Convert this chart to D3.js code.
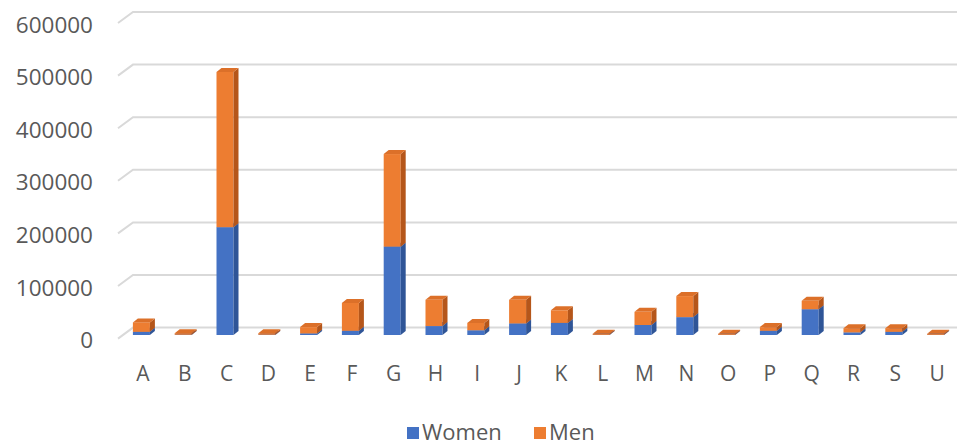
<!DOCTYPE html>
<html>
<head>
<meta charset="utf-8">
<script src="https://cdn.jsdelivr.net/npm/d3@7"></script>
<style>
  body { margin: 0; background: #fff; }
  svg text { font-family: "Open Sans", sans-serif; fill: #595959; }
</style>
</head>
<body>
<svg id="chart"></svg>
<script>
// values
const categories = ["A","B","C","D","E","F","G","H","I","J","K","L","M","N","O","P","Q","R","S","U"];
const women = [6000, 500, 205000, 500, 3000, 8000, 168000, 17000, 9000, 22000, 23000, 300, 19000, 34000, 300, 8000, 49000, 5000, 6000, 300];
const men = [18000, 3000, 295000, 3000, 12000, 53000, 176000, 50000, 14000, 45000, 24000, 2000, 25000, 40000, 2000, 7000, 16000, 8000, 7000, 2000];
const yTicks = [0, 100000, 200000, 300000, 400000, 500000, 600000];
const seriesNames = ["Women", "Men"];

const W = 957, H = 446;
const svg = d3.select("#chart").attr("width", W).attr("height", H);

const rows = categories.map((c, i) => ({cat: c, Women: women[i], Men: men[i]}));
const stack = d3.stack().keys(seriesNames)(rows);

const x = d3.scaleBand().domain(categories).range([122, 958]);
const y = d3.scaleLinear().domain([0, 600000]).range([335, 19.4]);

const frontCol = {Women: "#4472C4", Men: "#ED7D31"};
const sideCol = {Women: "#2F5597", Men: "#B5561A"};
const topCol = {Women: "#3E67B3", Men: "#DC7029"};
const dx = 5, dy = -4, faceW = 17;

// gridlines, back wall with a short slanted floor edge
const grid = svg.append("g");
yTicks.forEach(t => {
  const yb = y(t) - 7.4;
  grid.append("path")
    .attr("d", `M118,${yb + 11}L133,${yb}L957,${yb}`)
    .attr("fill", "none")
    .attr("stroke", "#d9d9d9")
    .attr("stroke-width", 2);
  svg.append("text")
    .attr("x", 93)
    .attr("y", yb + 12)
    .attr("text-anchor", "end")
    .attr("dominant-baseline", "central")
    .style("font-size", "22.5px")
    .text(t);
});

// bars
const bars = svg.append("g");
categories.forEach((c, i) => {
  const x0 = x(c) + x.bandwidth() / 2 - 10;
  const x1 = x0 + faceW;
  stack.forEach(s => {
    const d = s[i];
    const yt = y(d[1]), yb = y(d[0]);
    const g = bars.append("g");
    g.append("rect")
      .attr("x", x0).attr("y", yt)
      .attr("width", faceW).attr("height", Math.max(0, yb - yt))
      .attr("fill", frontCol[s.key]);
    g.append("path")
      .attr("d", `M${x1},${yt}L${x1 + dx},${yt + dy}L${x1 + dx},${yb + dy}L${x1},${yb}Z`)
      .attr("fill", sideCol[s.key]);
    g.append("path")
      .attr("d", `M${x0},${yt}L${x0 + dx},${yt + dy}L${x1 + dx},${yt + dy}L${x1},${yt}Z`)
      .attr("fill", topCol[s.key]);
  });
});

// category labels
svg.append("g").selectAll("text")
  .data(categories)
  .join("text")
  .attr("x", d => x(d) + x.bandwidth() / 2)
  .attr("y", 381)
  .attr("text-anchor", "middle")
  .style("font-size", "21px")
  .text(d => d);

// legend
const legend = svg.append("g");
const legendX = [407, 534];
seriesNames.forEach((n, i) => {
  legend.append("rect")
    .attr("x", legendX[i]).attr("y", 427)
    .attr("width", 12).attr("height", 12)
    .attr("fill", frontCol[n]);
  legend.append("text")
    .attr("x", legendX[i] + 15)
    .attr("y", 440)
    .style("font-size", "22px")
    .text(n);
});
</script>
</body>
</html>
